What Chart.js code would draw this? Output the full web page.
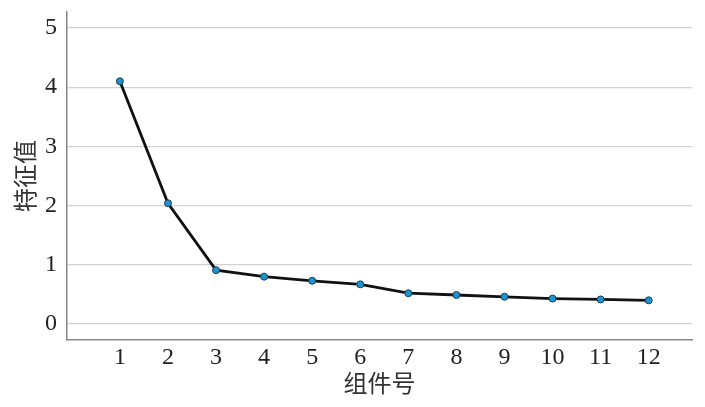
<!DOCTYPE html>
<html>
<head>
<meta charset="utf-8">
<script src="https://cdn.jsdelivr.net/npm/chart.js@4/dist/chart.umd.min.js"></script>
<style>
  html, body { margin: 0; padding: 0; background: #fff; }
  #wrap { width: 705px; height: 407px; }
</style>
</head>
<body>
<div id="wrap"><canvas id="screeChart"></canvas></div>
<script>
// 碎石图数据
const components = [1, 2, 3, 4, 5, 6, 7, 8, 9, 10, 11, 12];
const eigenvalues = [4.10, 2.04, 0.91, 0.80, 0.73, 0.67, 0.52, 0.49, 0.46, 0.43, 0.415, 0.40];
const yTicks = [0, 1, 2, 3, 4, 5];
const xLabel = '组件号';
const yLabel = '特征值';

const tickFont = { family: '"Liberation Serif", "DejaVu Serif", serif', size: 24 };
const titleFont = { family: '"Noto Sans CJK SC", sans-serif', size: 24 };

const points = components.map((c, i) => ({ x: c, y: eigenvalues[i] }));

new Chart(document.getElementById('screeChart'), {
  type: 'line',
  data: {
    datasets: [{
      data: points,
      borderColor: '#111',
      borderWidth: 2.8,
      tension: 0,
      pointBackgroundColor: '#1f93cc',
      pointBorderColor: '#1a3f5c',
      pointBorderWidth: 1,
      pointRadius: 3.5
    }]
  },
  options: {
    responsive: true,
    maintainAspectRatio: false,
    animation: false,
    layout: { padding: { top: 12, right: 13, left: 0, bottom: 10 } },
    plugins: {
      legend: { display: false },
      tooltip: { enabled: false }
    },
    scales: {
      x: {
        type: 'linear',
        min: -0.1,
        max: 12.9,
        afterBuildTicks: axis => { axis.ticks = components.map(v => ({ value: v })); },
        afterFit: axis => { axis.height = 57; axis.paddingLeft = 0; axis.paddingRight = 0; },
        grid: { display: false, drawTicks: false },
        border: { color: '#888', width: 1.5 },
        ticks: { font: tickFont, color: '#222', padding: 3, maxRotation: 0 },
        title: { display: true, text: xLabel, font: titleFont, color: '#333', padding: { top: 0, bottom: 0 } }
      },
      y: {
        type: 'linear',
        min: -0.27,
        max: 5.27,
        afterBuildTicks: axis => { axis.ticks = yTicks.map(v => ({ value: v })); },
        afterFit: axis => { axis.width = 67; axis.paddingTop = 0; axis.paddingBottom = 0; },
        grid: { color: '#d2d2d2', lineWidth: 1.2, drawTicks: false },
        border: { color: '#888', width: 1.5 },
        ticks: { font: tickFont, color: '#222', padding: 10 },
        title: { display: true, text: yLabel, font: titleFont, color: '#333', padding: { top: 10, bottom: 0 } }
      }
    }
  }
});
</script>
</body>
</html>
